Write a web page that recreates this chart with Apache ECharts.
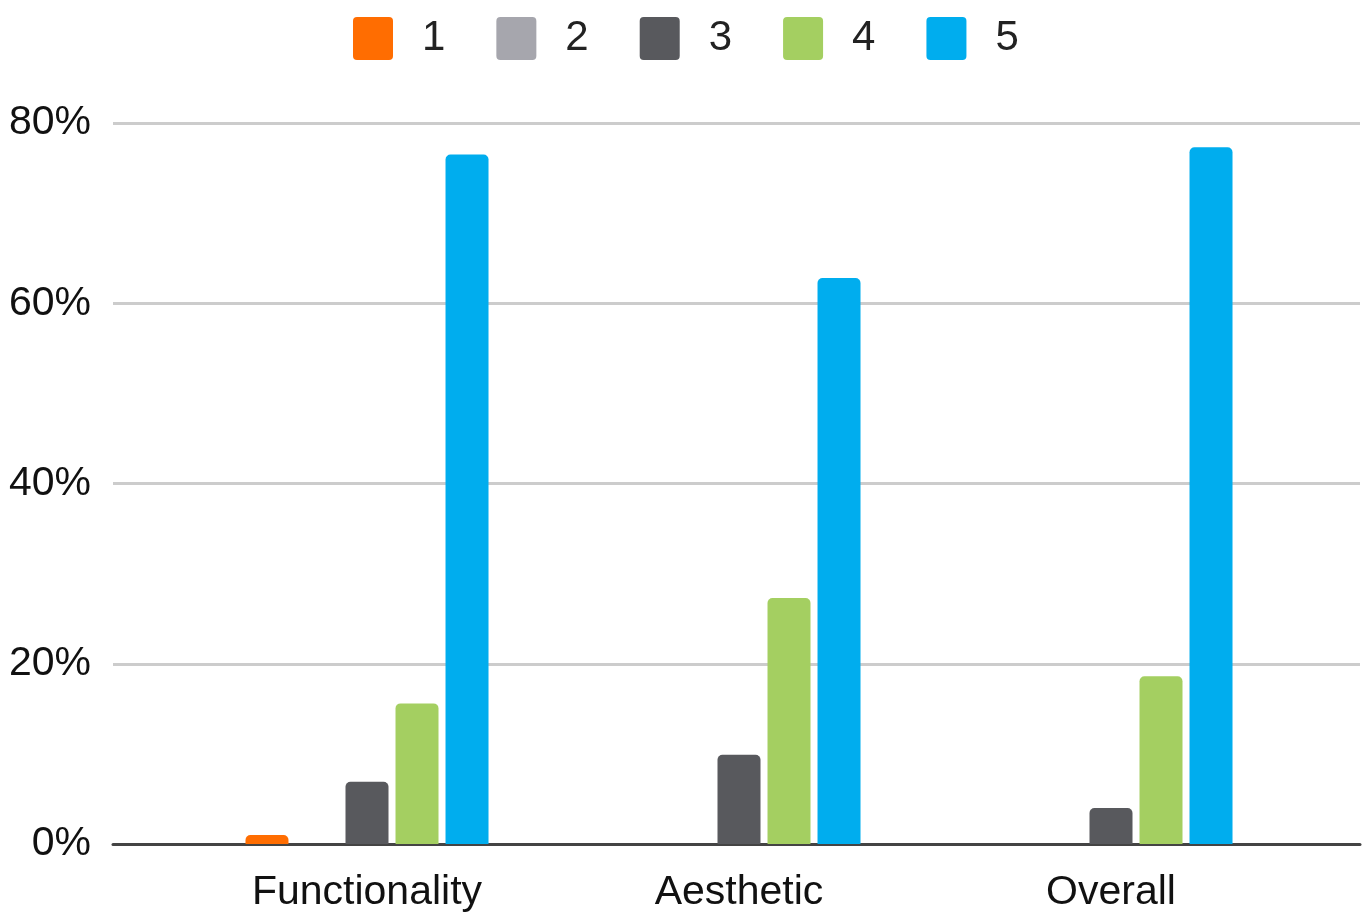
<!DOCTYPE html>
<html>
<head>
<meta charset="utf-8">
<script src="https://cdn.jsdelivr.net/npm/echarts@6/dist/echarts.min.js"></script>
<style>
html,body{margin:0;padding:0;background:#fff;}
#chart{width:1364px;height:915px;}
</style>
</head>
<body>
<div id="chart"></div>
<script>
const categories = ['Functionality', 'Aesthetic', 'Overall'];
const seriesNames = ['1', '2', '3', '4', '5'];
const s1 = [1.0, null, null];
const s2 = [null, null, null];
const s3 = [6.9, 9.9, 4.0];
const s4 = [15.6, 27.3, 18.6];
const s5 = [76.5, 62.8, 77.3];
const yTicks = [0, 20, 40, 60, 80];

const colors = ['#ff6d01', '#a6a6ad', '#58595d', '#a4cf61', '#00adee'];
const seriesData = [s1, s2, s3, s4, s5];
const FONT = '"Liberation Sans", Arial, sans-serif';
const ICON = 'path://M4,0 H36 Q40,0 40,4 V39 Q40,43 36,43 H4 Q0,43 0,39 V4 Q0,0 4,0 Z';

const chart = echarts.init(document.getElementById('chart'));
chart.setOption({
  animation: false,
  color: colors,
  legend: {
    top: 12,
    left: 348,
    itemWidth: 40,
    itemHeight: 43,
    itemGap: 51,
    icon: ICON,
    textStyle: { fontFamily: FONT, fontSize: 42, color: '#222', padding: [0, 0, 0, 24] },
    data: seriesNames
  },
  grid: [
    { left: 113, right: 4, top: 123, bottom: 71, containLabel: false },
    { left: 181, right: 67, top: 123, bottom: 71, containLabel: false }
  ],
  xAxis: [
    {
      gridIndex: 0, type: 'value', min: 0, max: 1,
      axisLine: { show: true, onZero: false, lineStyle: { color: '#444', width: 3 } },
      axisTick: { show: false }, axisLabel: { show: false }, splitLine: { show: false }
    },
    {
      gridIndex: 1, type: 'category', data: categories,
      axisLine: { show: false }, axisTick: { show: false },
      axisLabel: { fontFamily: FONT, fontSize: 41, color: '#111', margin: 28 }
    }
  ],
  yAxis: [
    {
      gridIndex: 0, type: 'value', min: yTicks[0], max: yTicks[yTicks.length - 1], interval: 20,
      axisLine: { show: false }, axisTick: { show: false },
      axisLabel: { fontFamily: FONT, fontSize: 41, color: '#111', margin: 22, formatter: '{value}%' },
      splitLine: { show: true, lineStyle: { color: '#cccccc', width: 3 } }
    },
    {
      gridIndex: 1, type: 'value', min: yTicks[0], max: yTicks[yTicks.length - 1], interval: 20,
      show: false, splitLine: { show: false }
    }
  ],
  series: seriesNames.map((n, i) => ({
    name: n,
    type: 'bar',
    xAxisIndex: 1,
    yAxisIndex: 1,
    data: seriesData[i],
    barWidth: 43,
    barGap: '16.3%',
    itemStyle: { color: colors[i], borderRadius: [5, 5, 0, 0] }
  }))
});
</script>
</body>
</html>
